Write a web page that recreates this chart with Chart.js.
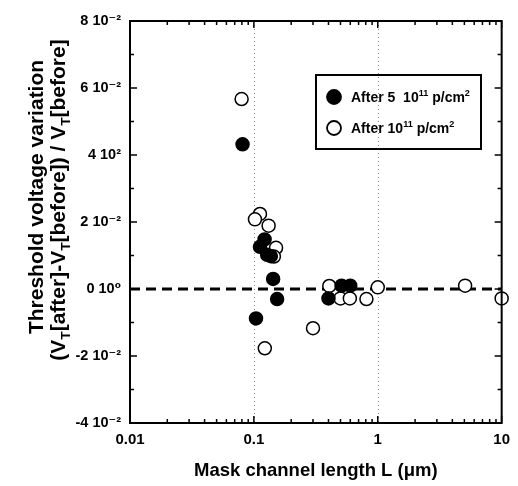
<!DOCTYPE html>
<html>
<head>
<meta charset="utf-8">
<script src="https://cdn.jsdelivr.net/npm/chart.js@4/dist/chart.umd.min.js"></script>
<style>
  html, body { margin: 0; padding: 0; background: #fff; }
  #wrap { width: 518px; height: 486px; }
</style>
</head>
<body>
<div id="wrap"><canvas id="myChart" width="518" height="486"></canvas></div>
<script>
// mask channel length L (um) and relative threshold voltage shift
var filledL = [0.081, 0.122, 0.112, 0.128, 0.137, 0.143, 0.154, 0.104, 0.40, 0.51, 0.60];
var filledV = [0.0432, 0.0148, 0.0126, 0.0102, 0.0098, 0.0030, -0.0030, -0.0088, -0.0028, 0.0010, 0.0010];

var openL = [0.0796, 0.112, 0.102, 0.1315, 0.151, 0.145, 0.30, 0.1225, 0.406, 0.50, 0.595, 0.81, 1.0, 5.07, 10.0];
var openV = [0.0567, 0.0224, 0.0208, 0.0189, 0.0123, 0.0097, -0.0117, -0.0177, 0.0009, -0.0028, -0.0028, -0.0030, 0.0005, 0.0010, -0.0028];

var xTicks = [0.01, 0.1, 1, 10];
var xTickLabels = ["0.01", "0.1", "1", "10"];
var yTickLabels = ["-4 10\u207B\u00B2", "-2 10\u207B\u00B2", "0 10\u2070", "2 10\u207B\u00B2", "4 10\u00B2", "6 10\u207B\u00B2", "8 10\u207B\u00B2"];

var legendItems = [
    { filled: true, parts: [["After 5  10", 0], ["11", 1], [" p/cm", 0], ["2", 1]] },
    { filled: false, parts: [["After 10", 0], ["11", 1], [" p/cm", 0], ["2", 1]] }
];

var FONT = "'Liberation Sans', Arial, 'DejaVu Sans', sans-serif";

function toPoints(xs, ys) {
    return xs.map(function (x, i) { return { x: x, y: ys[i] }; });
}

// draws text pieces; kind 1 = superscript, 2 = subscript
function drawRich(ctx, parts, x, y, size) {
    var cx = x;
    parts.forEach(function (p) {
        var s = p[1] ? size * 0.65 : size;
        ctx.font = "bold " + s + "px " + FONT;
        var dy = p[1] === 1 ? -size * 0.4 : (p[1] === 2 ? size * 0.25 : 0);
        ctx.fillText(p[0], cx, y + dy);
        cx += ctx.measureText(p[0]).width;
    });
    return cx - x;
}
function richWidth(ctx, parts, size) {
    var w = 0;
    parts.forEach(function (p) {
        var s = p[1] ? size * 0.65 : size;
        ctx.font = "bold " + s + "px " + FONT;
        w += ctx.measureText(p[0]).width;
    });
    return w;
}

var decor = {
    id: "decor",
    beforeDatasetsDraw: function (chart) {
        var ctx = chart.ctx, a = chart.chartArea, xs = chart.scales.x;
        ctx.save();
        ctx.strokeStyle = "rgba(0,0,0,0.45)";
        ctx.lineWidth = 1;
        ctx.setLineDash([1, 3]);
        [0.1, 1].forEach(function (v) {
            var px = Math.round(xs.getPixelForValue(v)) + 0.5;
            ctx.beginPath();
            ctx.moveTo(px, a.top);
            ctx.lineTo(px, a.bottom);
            ctx.stroke();
        });
        ctx.restore();
    },
    afterDatasetsDraw: function (chart) {
        var ctx = chart.ctx, a = chart.chartArea, xs = chart.scales.x, ys = chart.scales.y;
        ctx.save();
        ctx.strokeStyle = "#000";
        ctx.lineWidth = 2;
        ctx.strokeRect(a.left, a.top, a.right - a.left, a.bottom - a.top);
        ctx.lineWidth = 1.5;
        ctx.beginPath();
        // y ticks, every 0.01, longer at labelled ones
        for (var k = -4; k <= 8; k++) {
            var py = ys.getPixelForValue(k / 100);
            var len = (k % 2 === 0) ? 7 : 4;
            ctx.moveTo(a.left, py); ctx.lineTo(a.left + len, py);
            ctx.moveTo(a.right, py); ctx.lineTo(a.right - len, py);
        }
        // x ticks, decades and minor
        [0.01, 0.1, 1].forEach(function (d) {
            for (var m = 1; m <= 10; m++) {
                var px = xs.getPixelForValue(d * m);
                var l = (m === 1 || m === 10) ? 7 : 4;
                ctx.moveTo(px, a.bottom); ctx.lineTo(px, a.bottom - l);
                ctx.moveTo(px, a.top); ctx.lineTo(px, a.top + l);
            }
        });
        ctx.stroke();
        ctx.restore();
    },
    afterDraw: function (chart) {
        var ctx = chart.ctx;
        ctx.save();
        ctx.fillStyle = "#000";
        ctx.textBaseline = "alphabetic";

        // legend box
        ctx.lineWidth = 2;
        ctx.strokeStyle = "#000";
        ctx.strokeRect(316, 75, 165, 74);
        legendItems.forEach(function (it, i) {
            var cy = 97 + i * 31;
            ctx.beginPath();
            ctx.arc(334, cy, 7, 0, Math.PI * 2);
            ctx.fillStyle = it.filled ? "#000" : "#fff";
            ctx.fill();
            ctx.lineWidth = 1.8;
            ctx.stroke();
            ctx.fillStyle = "#000";
            drawRich(ctx, it.parts, 351, cy + 5, 14);
        });

        // y axis title, two rotated lines
        var size = 21;
        var line1 = [["Threshold voltage variation", 0]];
        var line2 = [["(V", 0], ["T", 2], ["[after]-V", 0], ["T", 2], ["[before]) / V", 0], ["T", 2], ["[before]", 0]];
        [[line1, 43, 197], [line2, 65, 200]].forEach(function (l) {
            ctx.save();
            ctx.translate(l[1], l[2]);
            ctx.rotate(-Math.PI / 2);
            var w = richWidth(ctx, l[0], size);
            drawRich(ctx, l[0], -w / 2, 0, size);
            ctx.restore();
        });
        ctx.restore();
    }
};

var ctx = document.getElementById("myChart");

new Chart(ctx, {
    type: "scatter",
    data: {
        datasets: [
            {
                label: "After 5 10^11 p/cm2",
                data: toPoints(filledL, filledV),
                pointRadius: 6.5,
                pointHoverRadius: 6.5,
                pointBackgroundColor: "#000",
                pointBorderColor: "#000",
                borderWidth: 1.5,
                clip: false
            },
            {
                label: "After 10^11 p/cm2",
                data: toPoints(openL, openV),
                pointRadius: 6.5,
                pointHoverRadius: 6.5,
                pointBackgroundColor: "#fff",
                pointBorderColor: "#000",
                pointBorderWidth: 1.5,
                clip: false
            },
            {
                type: "line",
                label: "zero",
                data: [{ x: 0.01, y: 0 }, { x: 10, y: 0 }],
                borderColor: "#000",
                borderWidth: 3,
                borderDash: [10, 6],
                pointRadius: 0
            }
        ]
    },
    options: {
        responsive: false,
        animation: false,
        layout: { padding: { top: 21, right: 11, left: 0, bottom: 0 } },
        plugins: {
            legend: { display: false },
            tooltip: { enabled: false }
        },
        scales: {
            x: {
                type: "logarithmic",
                min: 0.01,
                max: 10,
                afterBuildTicks: function (s) {
                    s.ticks = xTicks.map(function (v) { return { value: v }; });
                },
                afterFit: function (s) { s.height = 63; },
                grid: { display: false, drawTicks: false },
                border: { display: false },
                ticks: {
                    color: "#000",
                    padding: 8,
                    maxRotation: 0,
                    autoSkip: false,
                    font: { size: 15, weight: "bold", family: FONT },
                    callback: function (v, i) { return xTickLabels[i]; }
                },
                title: {
                    display: true,
                    text: "Mask channel length L (\u03BCm)",
                    color: "#000",
                    padding: { top: 0, bottom: 4 },
                    font: { size: 18.5, weight: "bold", family: FONT, lineHeight: 1.2 }
                }
            },
            y: {
                min: -0.04,
                max: 0.08,
                afterFit: function (s) { s.width = 130; },
                grid: { display: false, drawTicks: false },
                border: { display: false },
                ticks: {
                    stepSize: 0.02,
                    color: "#000",
                    padding: 9,
                    font: { size: 14.5, weight: "bold", family: FONT },
                    callback: function (v, i) { return yTickLabels[i]; }
                }
            }
        }
    },
    plugins: [decor]
});
</script>
</body>
</html>
